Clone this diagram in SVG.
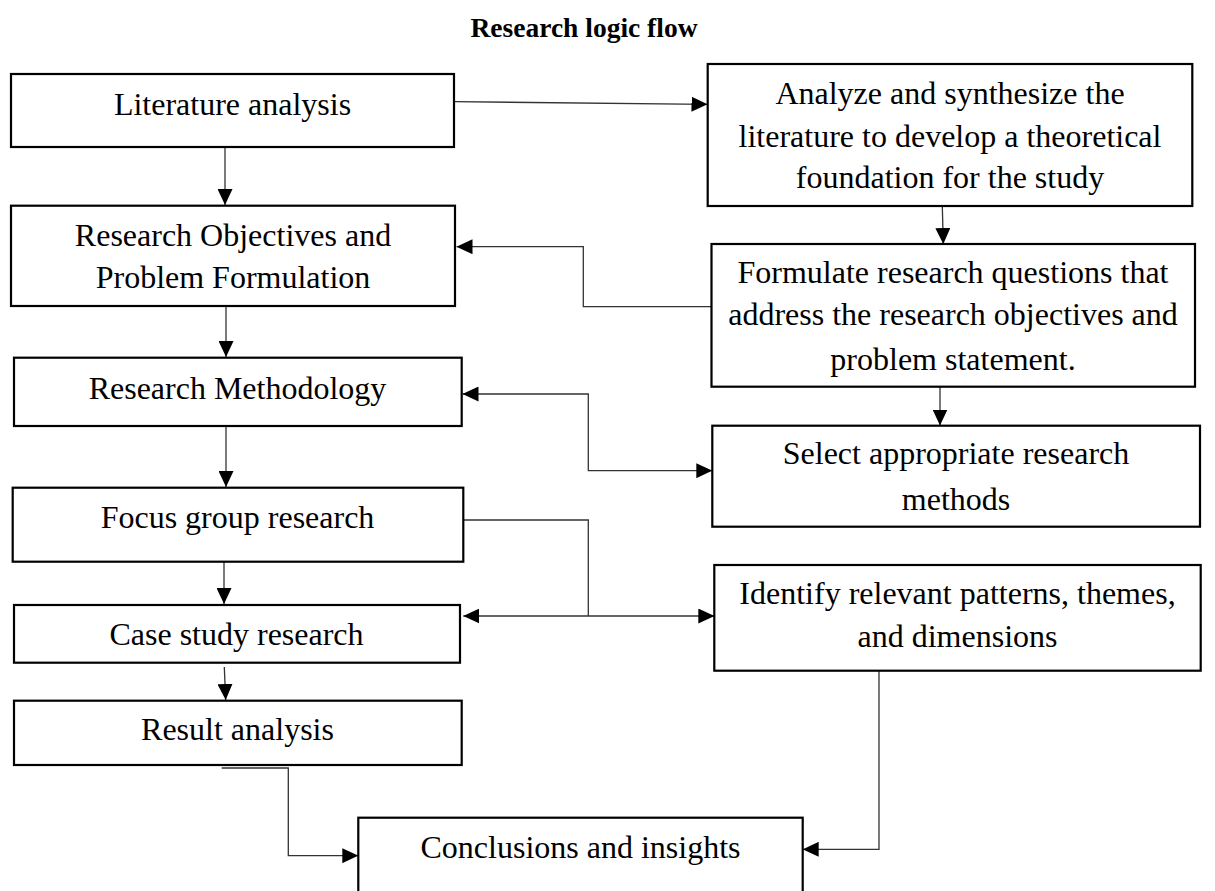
<svg xmlns="http://www.w3.org/2000/svg" width="1215" height="891" viewBox="0 0 1215 891">
<style>
.box{fill:#fff;stroke:#000;stroke-width:2.2}
.t{font-family:"Liberation Serif","Times New Roman",serif;font-size:32px;fill:#000;text-anchor:middle}
.title{font-family:"Liberation Serif","Times New Roman",serif;font-size:27.5px;font-weight:bold;fill:#000;text-anchor:middle}
.c{fill:none;stroke:#333;stroke-width:1.3}
</style>
<defs>
<marker id="ah" markerUnits="userSpaceOnUse" markerWidth="16" markerHeight="15" refX="16" refY="7.5" orient="auto-start-reverse" viewBox="0 0 16 15">
<path d="M0,0 L16,7.5 L0,15 Z" fill="#000"/>
</marker>
</defs>
<rect width="1215" height="891" fill="#fff"/>
<text class="title" x="584" y="37">Research logic flow</text>

<g id="connectors">
<path class="c" d="M225,147 L225,205" marker-end="url(#ah)"/>
<path class="c" d="M226,306 L226,357" marker-end="url(#ah)"/>
<path class="c" d="M226,426 L226,487" marker-end="url(#ah)"/>
<path class="c" d="M224,562 L224,604" marker-end="url(#ah)"/>
<path class="c" d="M224.3,667 L225.7,700" marker-end="url(#ah)"/>
<path class="c" d="M454,101.7 L707.5,104.3" marker-end="url(#ah)"/>
<path class="c" d="M942.3,206 L943.3,244" marker-end="url(#ah)"/>
<path class="c" d="M711.5,306.7 L583.3,306.7 L583.3,246.7 L456.5,246.7" marker-end="url(#ah)"/>
<path class="c" d="M940,386.7 L940,425.5" marker-end="url(#ah)"/>
<path class="c" d="M462.5,394 L588.3,394 L588.3,470.7 L712.3,470.7" marker-start="url(#ah)" marker-end="url(#ah)"/>
<path class="c" d="M463.3,520 L588.3,520 L588.3,616"/>
<path class="c" d="M463.3,616 L714.3,616" marker-start="url(#ah)" marker-end="url(#ah)"/>
<path class="c" d="M221.7,768 L288.3,768 L288.3,855.7 L358.3,855.7" marker-end="url(#ah)"/>
<path class="c" d="M879,670.7 L879,849.3 L802.7,849.3" marker-end="url(#ah)"/>
</g>

<g id="n-literature">
<rect class="box" x="11" y="74" width="443" height="73"/>
<text class="t" x="232.5" y="115">Literature analysis</text>
</g>
<g id="n-objectives">
<rect class="box" x="11" y="205.7" width="444" height="100.3"/>
<text class="t" x="233" y="246">Research Objectives and</text>
<text class="t" x="233" y="288">Problem Formulation</text>
</g>
<g id="n-methodology">
<rect class="box" x="14" y="357.7" width="447.7" height="68.3"/>
<text class="t" x="237.5" y="399">Research Methodology</text>
</g>
<g id="n-focus">
<rect class="box" x="12.7" y="487.7" width="450.6" height="74"/>
<text class="t" x="237.5" y="528">Focus group research</text>
</g>
<g id="n-case">
<rect class="box" x="14" y="605" width="446" height="57.7"/>
<text class="t" x="236.5" y="645">Case study research</text>
</g>
<g id="n-result">
<rect class="box" x="14" y="700.7" width="447.7" height="64.3"/>
<text class="t" x="237.5" y="740">Result analysis</text>
</g>
<g id="n-conclusions">
<rect class="box" x="358.3" y="817.7" width="444.4" height="76"/>
<text class="t" x="580.5" y="857.7">Conclusions and insights</text>
</g>
<g id="n-analyze">
<rect class="box" x="707.7" y="64" width="484.6" height="142"/>
<text class="t" x="950" y="104">Analyze and synthesize the</text>
<text class="t" x="950" y="146.7">literature to develop a theoretical</text>
<text class="t" x="950" y="188.3">foundation for the study</text>
</g>
<g id="n-formulate">
<rect class="box" x="711.5" y="244" width="483.5" height="142.7"/>
<text class="t" x="953" y="283.3">Formulate research questions that</text>
<text class="t" x="953" y="325">address the research objectives and</text>
<text class="t" x="953" y="370">problem statement.</text>
</g>
<g id="n-select">
<rect class="box" x="712.3" y="425.7" width="487.7" height="101"/>
<text class="t" x="956" y="464.3">Select appropriate research</text>
<text class="t" x="956" y="510">methods</text>
</g>
<g id="n-identify">
<rect class="box" x="714.3" y="565" width="486.4" height="105.7"/>
<text class="t" x="957.5" y="604">Identify relevant patterns, themes,</text>
<text class="t" x="957.5" y="647.3">and dimensions</text>
</g>
</svg>
